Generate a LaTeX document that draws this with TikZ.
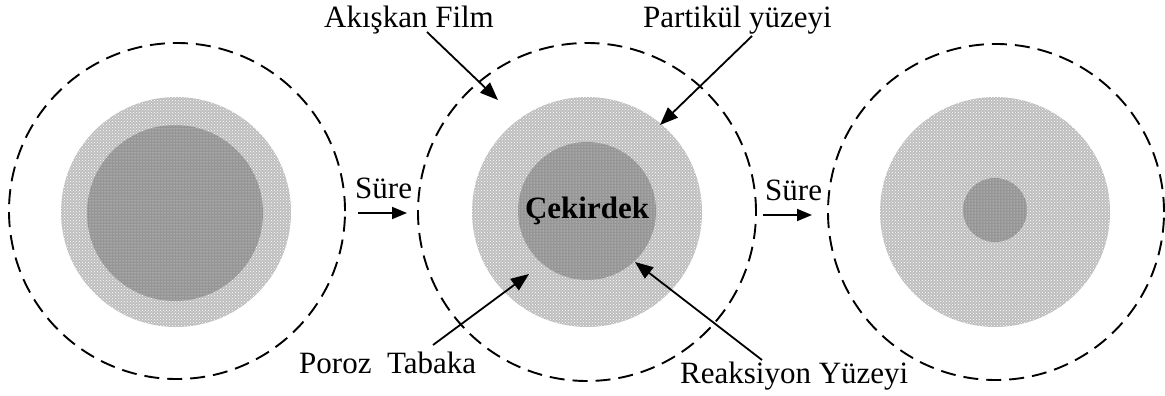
\documentclass[tikz,border=0pt]{standalone}
\usepackage{fontspec}
\setmainfont{Liberation Serif}
\usetikzlibrary{arrows.meta,patterns}
\definecolor{shellgray}{RGB}{190,190,190}
\definecolor{coregray}{RGB}{150,150,150}
\begin{document}
\begin{tikzpicture}[x=1pt,y=-1pt,
  film/.style={circle,draw=black,line width=1.9pt,dash pattern=on 15pt off 8pt,inner sep=0pt,minimum size=#1},
  shell/.style={circle,fill=shellgray,inner sep=0pt,minimum size=#1,
    postaction={pattern=crosshatch dots,pattern color=white}},
  core/.style={circle,fill=coregray,inner sep=0pt,minimum size=#1,
    postaction={pattern=dots,pattern color=white!85!coregray}},
  lbl/.style={inner sep=0pt,font=\fontsize{31}{36}\selectfont},
  pointer/.style={line width=1.8pt,-{Triangle[length=18pt,width=14pt]}},
  timearrow/.style={line width=1.8pt,-{Triangle[length=15pt,width=12pt]}}]
\useasboundingbox (0,0) rectangle (1165,396);

% three stages of the shrinking core
\node[film=336pt]  (f1) at (177,211) {};
\node[shell=230pt] (s1) at (176,212) {};
\node[core=176pt]  (c1) at (175,213) {};

\node[film=338pt]  (f2) at (587,212) {};
\node[shell=230pt] (s2) at (587,212) {};
\node[core=138pt]  (c2) at (587,211) {};

\node[film=336pt]  (f3) at (996,212) {};
\node[shell=230pt] (s3) at (995,212) {};
\node[core=64pt]   (c3) at (995,210) {};

% labels
\node[lbl,anchor=base west] (akiskan) at (324,28) {Akışkan Film};
\node[lbl,anchor=base west] (partikul) at (643,28) {Partikül yüzeyi};
\node[lbl,anchor=base west] (sure1) at (355,198) {Süre};
\node[lbl,anchor=base west] (sure2) at (765,200) {Süre};
\node[lbl,anchor=base,font=\fontsize{31}{36}\selectfont\bfseries] (cekirdek) at (587,218) {Çekirdek};
\node[lbl,anchor=base west] (poroz) at (299,373) {Poroz~~Tabaka};
\node[lbl,anchor=base west] (reaksiyon) at (680,383) {Reaksiyon Yüzeyi};

% pointer ends
\coordinate (a1s) at (427,32);  \coordinate (a1e) at (498,100);
\coordinate (a2s) at (752,36);  \coordinate (a2e) at (660,125);
\coordinate (a3s) at (433,345); \coordinate (a3e) at (529,274);
\coordinate (a4s) at (762,360); \coordinate (a4e) at (635,262);
\coordinate (t1s) at (358,213); \coordinate (t1e) at (407,213);
\coordinate (t2s) at (763,215); \coordinate (t2e) at (812,215);

\draw[pointer] (a1s) -- (a1e);
\draw[pointer] (a2s) -- (a2e);
\draw[pointer] (a3s) -- (a3e);
\draw[pointer] (a4s) -- (a4e);
\draw[timearrow] (t1s) -- (t1e);
\draw[timearrow] (t2s) -- (t2e);
\end{tikzpicture}
\end{document}
